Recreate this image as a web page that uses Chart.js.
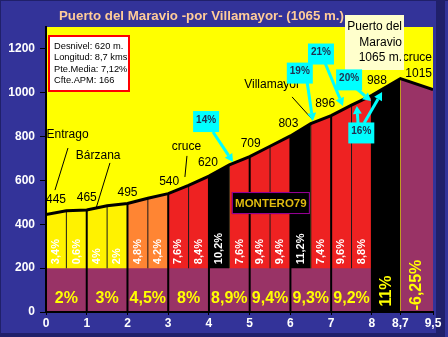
<!DOCTYPE html>
<html>
<head>
<meta charset="utf-8">
<script src="https://cdn.jsdelivr.net/npm/chart.js@4.4.1/dist/chart.umd.min.js"></script>
<style>
  html, body { margin: 0; padding: 0; background: #333399; overflow: hidden; }
  canvas { display: block; }
</style>
</head>
<body>
<canvas id="profile" width="448" height="337"></canvas>
<script>
// ---- Climb data: Puerto del Maravio from Entrago, via Villamayor ----
const kmPoints   = [0, 0.5, 1, 1.5, 2, 2.5, 3, 3.5, 4, 4.5, 5, 5.5, 6, 6.5, 7, 7.5, 8, 8.7, 9.5];
const elevations = [445, 462, 465, 485, 495, 519, 540, 578, 620, 671, 709, 756, 803, 859, 896, 944, 988, 1065, 1015];

// gradient of every half-kilometre section (km 0 to 8)
const halfKmGrades = ['3,4%', '0,6%', '4%', '2%', '4,8%', '4,2%', '7,6%', '8,4%',
                      '10,2%', '7,6%', '9,4%', '9,4%', '11,2%', '7,4%', '9,6%', '8,8%'];
// average gradient of each full kilometre (km 0 to 8)
const kmGrades = ['2%', '3%', '4,5%', '8%', '8,9%', '9,4%', '9,3%', '9,2%'];
// final two stretches: 8 -> 8,7 (summit) and 8,7 -> 9,5 (descent to the junction)
const lastGrades = ['11%', '-6,25%'];

const xTicks = [0, 1, 2, 3, 4, 5, 6, 7, 8, 8.7, 9.5];
const yTicks = [0, 200, 400, 600, 800, 1000, 1200];
const bandTop = 200;

// colour of each section, by steepness
const YEL = '#FFF200', ORA = '#FF8533', RED = '#EE2222', BLK = '#000000', PUR = '#993366';
const sectionColors = [YEL, YEL, YEL, YEL, ORA, ORA, RED, RED, BLK, RED, RED, RED, BLK, RED, RED, RED, BLK, PUR];

// spot heights written above the profile: km, pixel nudge x, pixel nudge y
const spotHeights = [
  [0, 10, -15], [1, 0, -12], [2, 0, -11], [3, 1, -12], [4, -1, -13],
  [5, 1, -13], [6, -2, -12], [7, -6, -12], [8, 5, -15]
];

// place names: text, label position (km, m), leader line from/to (km, m)
const places = [
  { text: 'Entrago',    at: [0.53, 807],  line: [[0.54, 748], [0.22, 556]] },
  { text: 'Bárzana',    at: [1.28, 712],  line: [[1.57, 680], [1.23, 474]] },
  { text: 'cruce',      at: [3.45, 753],  line: [[3.46, 712], [3.41, 616]] },
  { text: 'Villamayor', at: [5.55, 1035], line: [[6.04, 981], [6.55, 876]] }
];

// steepest ramps: box centre (km, m) and arrows start -> tip (km, m)
const ramps = [
  { text: '14%', at: [3.93, 871],  arrows: [[[4.10, 821], [4.59, 684]]] },
  { text: '19%', at: [6.23, 1092], arrows: [[[6.41, 1049], [6.55, 871]]] },
  { text: '21%', at: [6.75, 1179], arrows: [[[6.85, 1136], [7.29, 940]]] },
  { text: '20%', at: [7.44, 1061], arrows: [[[7.58, 1026], [7.98, 962]]] },
  { text: '16%', at: [7.74, 819],  arrows: [[[7.66, 862], [7.63, 940]], [[7.81, 862], [8.25, 1003]]] }
];

const infoLines = ['Desnivel: 620 m.', 'Longitud: 8,7 kms', 'Pte.Media: 7,12%', 'Cfte.APM: 166'];
const summitLines = ['Puerto del', 'Maravio', '1065 m.'];
const titleText = 'Puerto del Maravio -por Villamayor- (1065 m.)';

const FONT = "'Liberation Sans', Arial, sans-serif";

const profileData = kmPoints.map((k, i) => ({ x: k, y: elevations[i] }));
// thin dividers at every half-km, thick ones at every full km
const halfDividers = [], kmDividers = [];
kmPoints.forEach((k, i) => {
  if (k <= 0 || k > 8) return;
  if (Number.isInteger(k)) kmDividers.push({ x: k, y: [0, elevations[i]] });
  else halfDividers.push({ x: k, y: [bandTop, elevations[i]] });
});

function arrow(ctx, x1, y1, x2, y2) {
  const a = Math.atan2(y2 - y1, x2 - x1), L = 8, W = 4.5;
  const bx = x2 - L * Math.cos(a), by = y2 - L * Math.sin(a);
  ctx.beginPath(); ctx.moveTo(x1, y1); ctx.lineTo(bx, by); ctx.stroke();
  ctx.beginPath();
  ctx.moveTo(x2, y2);
  ctx.lineTo(bx + W * Math.sin(a), by - W * Math.cos(a));
  ctx.lineTo(bx - W * Math.sin(a), by + W * Math.cos(a));
  ctx.closePath(); ctx.fill();
}

const backdrop = {
  id: 'backdrop',
  beforeDraw(chart) {
    const { ctx, chartArea: a, width, height } = chart;
    ctx.save();
    ctx.fillStyle = '#333399';
    ctx.fillRect(0, 0, width, height);
    ctx.fillStyle = '#20206A';
    ctx.fillRect(0, 0, width, 1);
    ctx.fillRect(0, 0, 1, height);
    ctx.fillRect(436, 1, 9, height);
    ctx.fillRect(0, 333, 445, 4);
    ctx.fillStyle = '#FFFF00';
    ctx.fillRect(a.left, a.top, a.right - a.left, a.bottom - a.top);
    ctx.font = 'bold 13.3px ' + FONT;
    ctx.fillStyle = '#FFCC99';
    ctx.textBaseline = 'middle';
    ctx.fillText(titleText, 59, 16);
    ctx.restore();
  }
};

const notes = {
  id: 'notes',
  afterDraw(chart) {
    const { ctx, chartArea: a } = chart;
    const X = v => chart.scales.x.getPixelForValue(v);
    const Y = v => chart.scales.y.getPixelForValue(v);
    ctx.save();

    // half-km gradients, written upwards just above the band
    ctx.font = 'bold 11px ' + FONT;
    ctx.fillStyle = '#FFFFFF';
    ctx.textAlign = 'left';
    ctx.textBaseline = 'middle';
    halfKmGrades.forEach((t, i) => {
      ctx.save();
      ctx.translate((X(kmPoints[i]) + X(kmPoints[i + 1])) / 2, Y(bandTop) - 4);
      ctx.rotate(-Math.PI / 2);
      ctx.fillText(t, 0, 0);
      ctx.restore();
    });

    // per-kilometre averages in the band
    ctx.font = 'bold 16px ' + FONT;
    ctx.fillStyle = '#FFFF00';
    ctx.textAlign = 'center';
    kmGrades.forEach((t, i) => {
      ctx.fillText(t, X(i + 0.5), a.bottom - 13);
    });
    const n = kmPoints.length;
    [[kmPoints[n - 3], kmPoints[n - 2], 21], [kmPoints[n - 2], kmPoints[n - 1], 27]].forEach(([k0, k1, up], i) => {
      ctx.save();
      ctx.translate((X(k0) + X(k1)) / 2, a.bottom - up);
      ctx.rotate(-Math.PI / 2);
      ctx.fillText(lastGrades[i], 0, 0);
      ctx.restore();
    });

    // spot heights
    ctx.font = '12px ' + FONT;
    ctx.fillStyle = '#000';
    spotHeights.forEach(([k, dx, dy]) => {
      const i = kmPoints.indexOf(k);
      ctx.fillText(String(elevations[i]), X(k) + dx, Y(elevations[i]) + dy);
    });

    // place names and leader lines
    ctx.strokeStyle = '#000';
    ctx.lineWidth = 1;
    places.forEach(p => {
      ctx.fillText(p.text, X(p.at[0]), Y(p.at[1]));
      ctx.beginPath();
      ctx.moveTo(X(p.line[0][0]), Y(p.line[0][1]));
      ctx.lineTo(X(p.line[1][0]), Y(p.line[1][1]));
      ctx.stroke();
    });

    // end of the road: junction after the summit
    ctx.textAlign = 'right';
    const last = elevations[n - 1];
    ctx.fillText('cruce', a.right - 1, Y(last) - 32);
    ctx.fillText(String(last), a.right - 1, Y(last) - 16);

    // summit box
    ctx.fillStyle = '#FFFFCC';
    ctx.fillRect(345, 15, 59, 55);
    ctx.fillStyle = '#000';
    summitLines.forEach((t, i) => ctx.fillText(t, 402, 27 + i * 15.5));

    // steepest ramps: cyan boxes with arrows
    ctx.strokeStyle = '#00FFFF';
    ctx.fillStyle = '#00FFFF';
    ctx.lineWidth = 3;
    ramps.forEach(r => r.arrows.forEach(([s, e]) => arrow(ctx, X(s[0]), Y(s[1]), X(e[0]), Y(e[1]))));
    ctx.font = 'bold 10px ' + FONT;
    ctx.textAlign = 'center';
    ramps.forEach(r => {
      const cx = X(r.at[0]), cy = Y(r.at[1]);
      ctx.fillStyle = '#00FFFF';
      ctx.fillRect(cx - 13, cy - 10, 26, 21);
      ctx.fillStyle = '#1F3050';
      ctx.fillText(r.text, cx, cy - 1);
    });

    // author tag
    const mx = X(5.52), my = Y(497);
    ctx.fillStyle = '#000';
    ctx.fillRect(mx - 39, my - 11, 78, 22);
    ctx.strokeStyle = '#990099';
    ctx.lineWidth = 1;
    ctx.strokeRect(mx - 38.5, my - 10.5, 77, 21);
    ctx.font = 'bold 11.5px ' + FONT;
    ctx.fillStyle = '#E0BC10';
    ctx.fillText('MONTERO79', mx, my + 1);

    // climb summary box
    ctx.fillStyle = '#FFFFFF';
    ctx.fillRect(a.left + 2, a.top + 8, 82, 57);
    ctx.strokeStyle = '#FF0000';
    ctx.lineWidth = 2;
    ctx.strokeRect(a.left + 3, a.top + 9, 80, 55);
    ctx.font = '9.3px ' + FONT;
    ctx.fillStyle = '#000';
    ctx.textAlign = 'left';
    infoLines.forEach((t, i) => ctx.fillText(t, a.left + 8, a.top + 19 + i * 11.6));

    ctx.restore();
  }
};

new Chart(document.getElementById('profile'), {
  type: 'line',
  data: {
    datasets: [
      { // coloured sections under the profile
        order: 6,
        data: profileData,
        borderWidth: 0,
        borderColor: 'rgba(0,0,0,0)',
        pointRadius: 0,
        tension: 0,
        fill: 'origin',
        backgroundColor: sectionColors[0],
        segment: { backgroundColor: c => sectionColors[c.p0DataIndex] }
      },
      { // band under 200 m
        order: 5,
        data: [{ x: 0, y: bandTop }, { x: 8, y: bandTop }],
        borderWidth: 0,
        borderColor: 'rgba(0,0,0,0)',
        pointRadius: 0,
        fill: 'origin',
        backgroundColor: PUR
      },
      {
        type: 'bar', order: 4, data: halfDividers, grouped: false,
        barThickness: 1, maxBarThickness: 1, backgroundColor: '#1a1a1a', borderWidth: 0, inflateAmount: 0
      },
      {
        type: 'bar', order: 3, data: kmDividers, grouped: false,
        barThickness: 2, maxBarThickness: 2, backgroundColor: '#000', borderWidth: 0, inflateAmount: 0
      },
      { // the road profile itself
        order: 1,
        data: profileData,
        borderColor: '#000',
        borderWidth: 3,
        pointRadius: 0,
        tension: 0,
        fill: false
      }
    ]
  },
  options: {
    responsive: false,
    animation: false,
    events: [],
    layout: { padding: { top: 27, right: 15, left: 0, bottom: 0 } },
    plugins: { legend: { display: false }, tooltip: { enabled: false }, title: { display: false } },
    scales: {
      x: {
        type: 'linear', min: 0, max: 9.5, offset: false,
        grid: { drawOnChartArea: false, drawTicks: true, tickLength: 3, color: '#000', offset: false },
        border: { display: true, color: '#000', width: 2, z: 1 },
        afterBuildTicks: s => { s.ticks = xTicks.map(v => ({ value: v })); },
        afterFit: s => { s.height = 25; },
        ticks: {
          color: '#FFFFFF', padding: 1, maxRotation: 0, autoSkip: false,
          font: { family: FONT, size: 12, weight: 'bold' },
          callback: v => String(v).replace('.', ',')
        }
      },
      y: {
        type: 'linear', min: 0, max: 1300,
        grid: { drawOnChartArea: false, drawTicks: true, tickLength: 6, color: '#000' },
        border: { display: true, color: '#000', width: 2, z: 1 },
        afterBuildTicks: s => { s.ticks = yTicks.map(v => ({ value: v })); },
        afterFit: s => { s.width = 46; },
        ticks: {
          color: '#FFFFFF', padding: 5,
          font: { family: FONT, size: 12, weight: 'bold' },
          callback: v => String(v)
        }
      }
    }
  },
  plugins: [backdrop, notes]
});
</script>
</body>
</html>
